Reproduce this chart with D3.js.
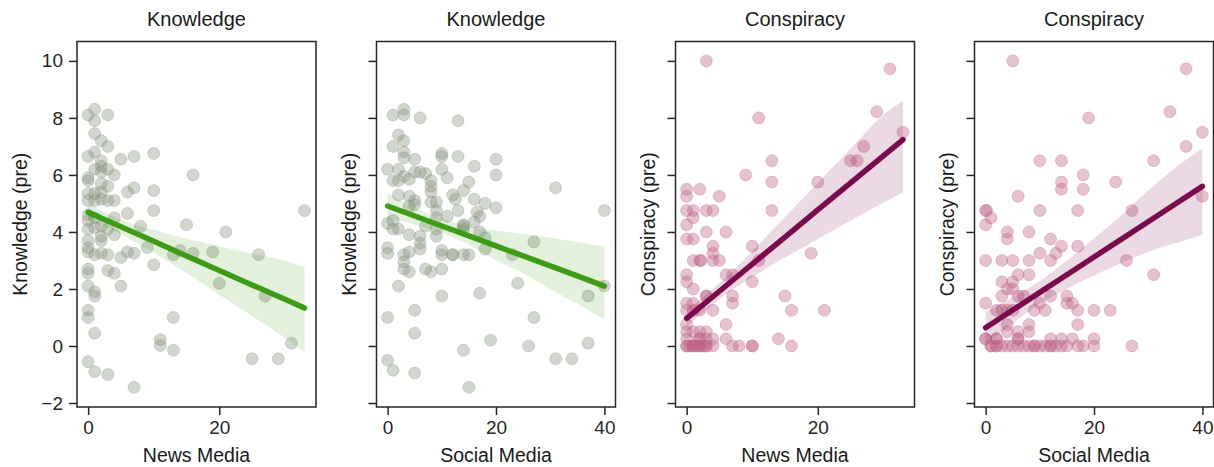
<!DOCTYPE html>
<html lang="en">
<head>
<meta charset="UTF-8">
<title>Knowledge / Conspiracy vs media</title>
<script src="https://d3js.org/d3.v7.min.js"></script>
<style>
    body { margin: 0; background: #fff; }
    svg { display: block; font-family: "Liberation Sans", Arial, sans-serif; }
    .frame { fill: none; stroke: #262626; stroke-width: 1.5px; }
    .tick line { stroke: #262626; stroke-width: 1.5px; }
    .tick text { font-size: 19px; fill: #262626; }
    .domain { display: none; }
    .title { font-size: 20px; fill: #1a1a1a; text-anchor: middle; }
    .label { font-size: 19.5px; fill: #1a1a1a; text-anchor: middle; }
</style>
</head>
<body>
<svg id="chart" width="1214" height="467"></svg>
<script>
    // axis limits and ticks
    const newsDomain = [-1.7, 34.75];
    const socialDomain = [-2.05, 42.05];
    const yDomain = [-2.14, 10.68];
    const newsTicks = [0, 20];
    const socialTicks = [0, 20, 40];
    const yTicks = [-2, 0, 2, 4, 6, 8, 10];

    // scatter points [x, y]
    const knowledgeNews = [
        [0,8.1],[1,8.3],[1,7.9],[3,8.1],[1,7.45],[2,7.2],[3,7.0],[0,6.65],[1,6.8],[2,6.5],[5,6.55],[7,6.65],[10,6.75],[16,6.0],
        [0,5.9],[0,5.8],[1,6.2],[2,6.1],[3,6.2],[2,6.3],[4,6.0],[2,5.7],[3,5.6],[0,5.35],[1,5.35],[2,5.4],[6,5.4],[7,5.55],[10,5.45],
        [0,5.1],[1,5.1],[2,5.15],[3,5.1],[4,5.1],[10,4.75],[6,4.65],[4,4.5],[33,4.75],[8,4.2],[15,4.25],[21,4.0],
        [0,4.6],[1,4.5],[0,4.4],[0,4.1],[1,4.15],[2,4.2],[3,4.1],[4,3.9],[2,3.7],[2,3.85],[0,3.7],[0,3.45],[0,3.3],[1,3.2],[2,3.25],
        [3,3.2],[5,3.1],[6,3.3],[7,3.25],[9,3.45],[10,2.85],[13,3.2],[14,3.35],[16,3.25],[19,3.3],[26,3.2],[20,2.2],[27,1.75],
        [31,0.1],[25,-0.45],[29,-0.45],[13,1.0],[11,0.22],[11,0.02],[13,-0.15],[0,2.7],[0,2.55],[3,2.65],[4,2.55],[5,2.1],[0,2.1],
        [1,1.9],[1,1.75],[0,1.25],[0,1.0],[1,0.45],[0,-0.55],[1,-0.9],[3,-1.0],[7,-1.45]
    ];
    const knowledgeSocial = [
        [1,8.1],[3,8.3],[3,8.1],[6,8.0],[13,7.9],[2,7.4],[3,7.2],[1,7.0],[3,6.8],[3,6.6],[5,6.55],[10,6.75],[10,6.65],[13,6.65],
        [20,6.55],[20,6.0],[16,6.3],[0,6.2],[2,6.2],[5,6.1],[6,6.1],[10,6.2],[3,5.95],[4,5.85],[1,5.8],[2,5.8],[7,6.05],[8,5.8],
        [8,5.6],[8,5.4],[11,5.9],[15,5.75],[31,5.55],[40,4.75],[14,5.45],[12,5.3],[12.5,5.15],[16,5.15],[18,5.0],[20,4.85],[2,5.3],
        [4,5.25],[5,5.1],[5,4.95],[9,5.05],[8,5.05],[4,4.9],[13,4.75],[9,4.75],[9,4.5],[11,4.55],[16.5,4.7],[17,4.55],[0,4.3],
        [1,4.4],[14,4.25],[16,4.35],[1,4.1],[2,4.1],[4,3.9],[6,3.85],[6,3.6],[6,3.4],[7,4.2],[9,4.1],[9,3.85],[14,4.2],[14,4.1],
        [17,4.0],[18,3.8],[18,3.4],[23,3.2],[27,3.65],[0,3.45],[0,3.25],[3,3.2],[3,2.95],[3,2.7],[4,3.3],[4,2.6],[10,3.35],[10,3.2],
        [12,3.2],[12,3.2],[14,3.2],[15,3.2],[7,2.7],[8,2.6],[10,2.7],[2,2.1],[10,1.75],[17,1.85],[24,2.2],[37,1.75],[40,2.1],
        [0,1.0],[5,1.25],[27,1.0],[5,0.45],[19,0.2],[14,-0.15],[26,0.0],[37,0.1],[31,-0.45],[34,-0.45],[0,-0.5],[1,-0.85],[5,-0.95],[15,-1.45]
    ];
    const conspiracyNews = [
        [3,10],[11,8],[31,9.72],[29,8.22],[33,7.5],[27,7.0],[25,6.5],[26,6.5],[9,6.0],[13,6.5],[13,5.75],[13,4.75],[20,5.75],
        [0,5.5],[0,5.25],[2,5.5],[5,5.25],[0,4.75],[1,4.75],[3,4.75],[4,4.75],[1,4.5],[0,4.25],[3,4.0],[6,4.0],
        [0,3.75],[1,3.75],[4,3.5],[4,3.25],[10,3.5],[19,3.25],[1,3.0],[2,3.0],[2.2,3.0],[4,3.0],[5,3.0],[11,3.0],[0,2.5],[0,2.25],
        [6,2.5],[7,2.5],[10,2.25],[1,2.0],[3,1.75],[3,1.75],[7,1.75],[7,1.5],[15,1.75],[0,1.5],[1,1.5],[0,1.25],[1,1.25],[2,1.25],
        [4,1.25],[16,1.25],[21,1.25],[0,0.75],[6,0.75],[0,0.5],[1,0.5],[2,0.5],[3,0.5],[0,0.25],[2,0.25],[4,0.25],[6,0.25],[14,0.25],
        [2,0.25],[3,0.25],[0,0],[0.5,0],[1,0],[1.5,0],[2,0],[2.5,0],[3,0],[4,0],[7,0],[8,0],[10,0],[10,0],[16,0],[0,0],[1,0],[2,0],[3,0]
    ];
    const conspiracySocial = [
        [5,10],[19,8],[37,9.72],[34,8.22],[40,7.5],[37,7.0],[31,6.5],[10,6.5],[14,6.5],[14,5.75],[14,5.5],[18,6.0],[18,5.5],[24,5.75],
        [6,5.25],[40,5.25],[0,4.75],[0.2,4.75],[10,4.75],[17,4.75],[27,4.75],[1,4.5],[0,4.25],[4,4.0],[4,3.75],[8,4.0],[12,3.75],
        [14,3.5],[13,3.25],[10,3.25],[17,3.5],[0,3.0],[3,3.0],[5,3.0],[8,3.0],[12,3.0],[26,3.0],[31,2.5],[6,2.5],[8,2.5],[3,2.25],
        [5,2.25],[4,2.0],[5,2.0],[3,1.75],[6,1.75],[7,1.75],[12,1.75],[15,1.75],[0,1.5],[10,1.5],[15,1.5],[16,1.5],[2,1.25],[3,1.25],
        [4,1.25],[5,1.25],[9,1.25],[11,1.25],[17,1.25],[20,1.25],[23,1.25],[4,0.75],[8,0.75],[17,0.75],[4,0.5],[6,0.5],[8,0.5],
        [0,0.25],[2,0.25],[6,0.25],[12,0.25],[14,0.25],[16,0.25],[20,0.25],[1,0],[2,0],[3,0],[4,0],[5,0],[6,0],[7,0],[8,0],[9,0],
        [9,0],[10,0],[11,0],[12,0],[12,0],[13,0],[14,0],[15,0],[17,0],[18,0],[20,0],[27,0],[1,0],[2,0],[0,0.25],[2,0.25],[6,0.25]
    ];

    // regression lines and confidence bands
    const fitNewsX = [0, 5, 10, 15, 20, 25, 30, 33];
    const fitSocialX = [0, 5, 10, 15, 20, 25, 30, 35, 40];
    const knowFitNews = [4.69, 4.18, 3.67, 3.16, 2.65, 2.14, 1.64, 1.33];
    const knowHiNews  = [4.99, 4.43, 4.07, 3.76, 3.5, 3.24, 2.99, 2.77];
    const knowLoNews  = [4.39, 3.93, 3.27, 2.56, 1.8, 1.04, 0.29, -0.22];
    const knowFitSocial = [4.91, 4.56, 4.21, 3.86, 3.51, 3.16, 2.81, 2.46, 2.1];
    const knowHiSocial  = [5.36, 4.86, 4.46, 4.2, 4.05, 3.93, 3.8, 3.65, 3.5];
    const knowLoSocial  = [4.46, 4.26, 3.96, 3.55, 3.0, 2.55, 2.0, 1.48, 0.94];
    const consFitNews = [0.97, 1.92, 2.87, 3.82, 4.77, 5.72, 6.67, 7.24];
    const consHiNews  = [1.27, 2.2, 3.32, 4.52, 5.72, 6.92, 8.1, 8.6];
    const consLoNews  = [0.67, 1.64, 2.42, 3.1, 3.75, 4.4, 5.02, 5.38];
    const consFitSocial = [0.64, 1.26, 1.88, 2.5, 3.12, 3.74, 4.36, 4.98, 5.6];
    const consHiSocial  = [1.2, 1.72, 2.28, 3.0, 3.77, 4.58, 5.45, 6.25, 6.94];
    const consLoSocial  = [0.1, 0.8, 1.48, 2.0, 2.47, 2.9, 3.3, 3.6, 3.9];

    const green = { dot: "#87927d", line: "#3d9c17" };
    const plum = { dot: "#bd5f84", line: "#7a0a4c" };

    const panels = [
        { title: "Knowledge", xlabel: "News Media", ylabel: "Knowledge (pre)", pts: knowledgeNews,
          domain: newsDomain, ticks: newsTicks, fx: fitNewsX, fy: knowFitNews, hi: knowHiNews, lo: knowLoNews, col: green },
        { title: "Knowledge", xlabel: "Social Media", ylabel: "Knowledge (pre)", pts: knowledgeSocial,
          domain: socialDomain, ticks: socialTicks, fx: fitSocialX, fy: knowFitSocial, hi: knowHiSocial, lo: knowLoSocial, col: green },
        { title: "Conspiracy", xlabel: "News Media", ylabel: "Conspiracy (pre)", pts: conspiracyNews,
          domain: newsDomain, ticks: newsTicks, fx: fitNewsX, fy: consFitNews, hi: consHiNews, lo: consLoNews, col: plum },
        { title: "Conspiracy", xlabel: "Social Media", ylabel: "Conspiracy (pre)", pts: conspiracySocial,
          domain: socialDomain, ticks: socialTicks, fx: fitSocialX, fy: consFitSocial, hi: consHiSocial, lo: consLoSocial, col: plum }
    ];

    const svg = d3.select("#chart");
    const plotTop = 41.5, plotBottom = 407, panelW = 239;
    const lefts = [77, 376.5, 675.5, 974.5];

    const y = d3.scaleLinear().domain(yDomain).range([plotBottom, plotTop]);

    panels.forEach((p, i) => {
        const x = d3.scaleLinear().domain(p.domain).range([0, panelW]);
        const g = svg.append("g").attr("transform", `translate(${lefts[i]},0)`);

        g.append("clipPath").attr("id", "clip" + i)
            .append("rect").attr("x", 0).attr("y", plotTop).attr("width", panelW).attr("height", plotBottom - plotTop);

        const plot = g.append("g").attr("clip-path", `url(#clip${i})`);

        // points
        plot.selectAll("circle")
            .data(p.pts)
            .enter().append("circle")
            .attr("cx", d => x(d[0]))
            .attr("cy", d => y(d[1]))
            .attr("r", 6)
            .attr("fill", p.col.dot)
            .attr("fill-opacity", 0.38)
            .attr("stroke", p.col.dot)
            .attr("stroke-opacity", 0.3)
            .attr("stroke-width", 1);

        // confidence band
        const band = p.fx.map((v, k) => ({ x: v, lo: p.lo[k], hi: p.hi[k] }));
        plot.append("path")
            .datum(band)
            .attr("fill", p.col.line)
            .attr("fill-opacity", 0.15)
            .attr("d", d3.area().x(d => x(d.x)).y0(d => y(d.lo)).y1(d => y(d.hi)).curve(d3.curveMonotoneX));

        // fit line
        plot.append("path")
            .datum(p.fx.map((v, k) => [v, p.fy[k]]))
            .attr("fill", "none")
            .attr("stroke", p.col.line)
            .attr("stroke-width", 5.5)
            .attr("stroke-linecap", "round")
            .attr("d", d3.line().x(d => x(d[0])).y(d => y(d[1])));

        // axes
        g.append("g")
            .attr("transform", `translate(0,${plotBottom})`)
            .call(d3.axisBottom(x).tickValues(p.ticks).tickFormat(d3.format("d")).tickSize(8).tickPadding(6));

        const ya = d3.axisLeft(y).tickValues(yTicks).tickSize(8).tickPadding(6);
        if (i === 0) ya.tickFormat(d => d < 0 ? "\u2212" + Math.abs(d) : d);
        else ya.tickFormat("");
        g.append("g").call(ya);

        g.append("rect").attr("class", "frame")
            .attr("x", 0).attr("y", plotTop).attr("width", panelW).attr("height", plotBottom - plotTop);

        // texts
        g.append("text").attr("class", "title")
            .attr("x", panelW / 2).attr("y", 26).text(p.title);
        g.append("text").attr("class", "label")
            .attr("x", panelW / 2).attr("y", 462).text(p.xlabel);
        const lx = i === 0 ? -50 : -21;
        g.append("text").attr("class", "label")
            .attr("transform", `translate(${lx},${(plotTop + plotBottom) / 2}) rotate(-90)`)
            .text(p.ylabel);
    });
</script>
</body>
</html>
